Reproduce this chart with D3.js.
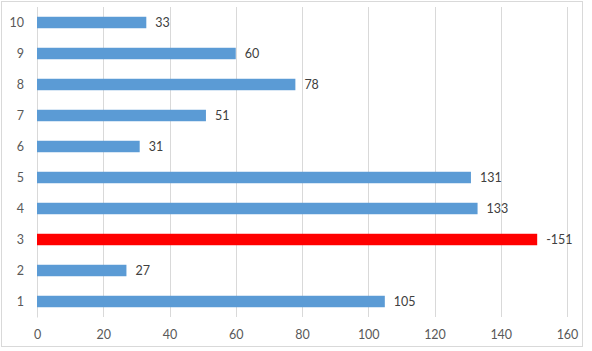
<!DOCTYPE html>
<html><head><meta charset="utf-8">
<script src="https://cdn.jsdelivr.net/npm/d3@7"></script>
<style>body{margin:0;background:#fff}svg{display:block}text{font-family:Lato,"Open Sans",sans-serif}</style>
</head><body>
<svg id="c" width="592" height="351"></svg>
<script>
const categories = ["1","2","3","4","5","6","7","8","9","10"];
const values = [105, 27, 151, 133, 131, 31, 51, 78, 60, 33];
const valueLabels = ["105","27","-151","133","131","31","51","78","60","33"];
const highlighted = [false,false,true,false,false,false,false,false,false,false];
const xTicks = [0,20,40,60,80,100,120,140,160];

const svg = d3.select("#c");
svg.append("rect").attr("x",1.5).attr("y",1.5).attr("width",581).attr("height",345)
  .attr("fill","#fff").attr("stroke","#d9d9d9");
const x = d3.scaleLinear().domain([0,160]).range([37,567]);
const y = d3.scaleBand().domain(categories.slice().reverse()).range([7,317]).paddingInner(0.63).paddingOuter(0.315);

// gridlines
svg.append("g").selectAll("line").data(xTicks).join("line")
  .attr("x1",d=>Math.round(x(d))+0.5).attr("x2",d=>Math.round(x(d))+0.5)
  .attr("y1",7).attr("y2",317).attr("stroke","#d9d9d9").attr("stroke-width",1);

const xAxis = svg.append("g").attr("transform","translate(0,317)")
  .call(d3.axisBottom(x).tickValues(xTicks).tickSize(0).tickPadding(13));
xAxis.select(".domain").remove();
xAxis.selectAll("text").attr("fill","#595959").style("font-size","12.5px");

const yAxis = svg.append("g").attr("transform","translate(37,0)")
  .call(d3.axisLeft(y).tickSize(0).tickPadding(13));
yAxis.select(".domain").attr("stroke","#d9d9d9");
yAxis.selectAll("text").attr("fill","#595959").style("font-size","12.5px");

const data = categories.map((c,i)=>({c, v:values[i], l:valueLabels[i], h:highlighted[i]}));
svg.append("g").selectAll("rect").data(data).join("rect")
  .attr("x",x(0)).attr("y",d=>y(d.c)).attr("width",d=>x(d.v)-x(0)).attr("height",y.bandwidth())
  .attr("fill",d=>d.h?"#ff0000":"#5b9bd5");
svg.append("g").selectAll("text").data(data).join("text")
  .attr("x",d=>x(d.v)+9).attr("y",d=>y(d.c)+y.bandwidth()/2).attr("dy","0.35em")
  .attr("fill","#404040").style("font-size","12.5px").text(d=>d.l);
</script>
</body></html>
